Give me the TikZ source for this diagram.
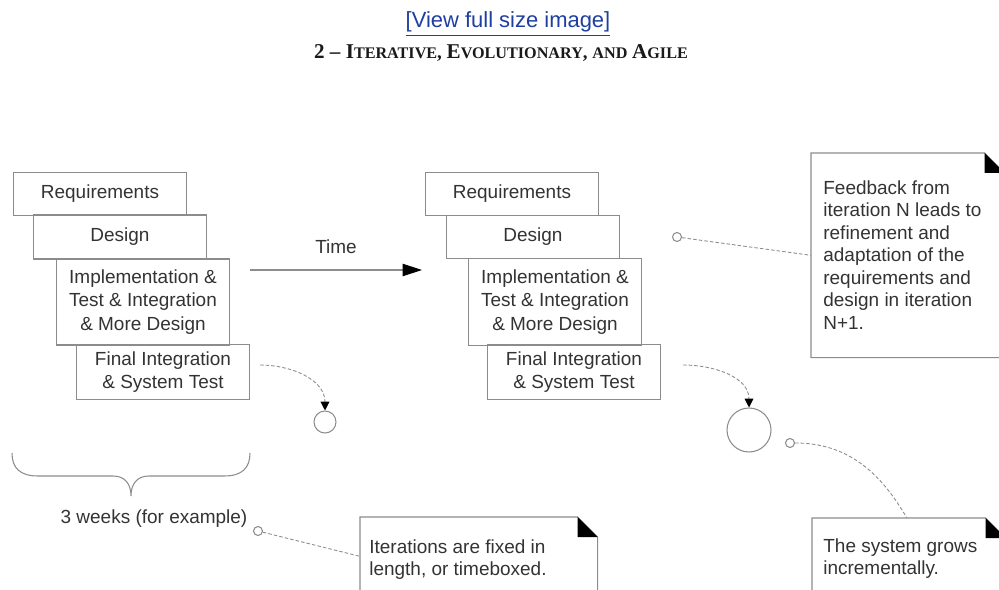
\documentclass[tikz,border=0pt]{standalone}
\usepackage{fontspec}
\setmainfont{Liberation Sans}
\newfontfamily\headfont{Liberation Serif}
\usetikzlibrary{arrows.meta, calc}
\definecolor{boxgray}{HTML}{8C8C8C}
\definecolor{inkgray}{HTML}{333333}
\definecolor{linkblue}{HTML}{1F3FA0}
\newcommand{\smallcap}[2]{{\fontsize{12}{12}\selectfont #1}{\fontsize{9.2}{10}\selectfont #2}}

\begin{document}
\begin{tikzpicture}[x=0.02cm, y=-0.02cm,
        stage/.style={rectangle, draw=boxgray, line width=0.6pt, align=center, inner sep=0pt, minimum width=3.46cm},
        leader/.style={draw=boxgray, line width=0.5pt, dash pattern=on 2pt off 1.2pt},
        dot/.style={circle, draw=boxgray, line width=0.6pt, inner sep=0pt, minimum size=0.18cm},
        frame/.style={draw=none, inner sep=0pt, anchor=north west},
        notetext/.style={inner sep=0pt, anchor=north west, align=left, font=\fontsize{10.8}{12.8}\selectfont}]
    \tikzstyle{every node}=[text=inkgray, font=\fontsize{10.8}{13.3}\selectfont]
    \clip (0,0) rectangle (999,590);

    % heading
    \node[text=linkblue, font=\fontsize{12.5}{14}\selectfont] (view) at (508,24) {\underline{[View full size image]}};
    \node[text=black!90] (chapter) at (501,53) {\headfont\bfseries{\fontsize{12}{12}\selectfont 2 – }\smallcap{I}{TERATIVE}, \smallcap{E}{VOLUTIONARY}, \smallcap{}{AND} \smallcap{A}{GILE}};

    % first iteration
    \node[stage, minimum height=0.86cm] (reqA) at (100,194) {Requirements};
    \node[stage, minimum height=0.88cm] (desA) at (120,237) {Design};
    \node[stage, minimum height=1.72cm] (impA) at (143,302) {Implementation \&\\Test \& Integration\\\& More Design};
    \node[stage, minimum height=1.10cm] (finA) at (163,372) {Final Integration\\\& System Test};

    % second iteration
    \node[stage, minimum height=0.86cm] (reqB) at (512,194) {Requirements};
    \node[stage, minimum height=0.86cm] (desB) at (533,237) {Design};
    \node[stage, minimum height=1.74cm] (impB) at (555,302) {Implementation \&\\Test \& Integration\\\& More Design};
    \node[stage, minimum height=1.10cm] (finB) at (574,372) {Final Integration\\\& System Test};

    % time axis
    \coordinate (t0) at (250,270);
    \coordinate (t1) at (422,270);
    \draw[boxgray, line width=0.6pt, -{Triangle[length=11pt, width=7pt, black]}] (t0) -- (t1)
        node[midway, above=5.5pt, text=inkgray] (time) {Time};

    % growing system
    \node[circle, draw=boxgray, line width=0.6pt, minimum size=0.44cm, inner sep=0pt] (sysA) at (325,422) {};
    \node[circle, draw=boxgray, line width=0.6pt, minimum size=0.88cm, inner sep=0pt] (sysB) at (749,430) {};
    \coordinate (outA) at (260,365);
    \coordinate (outB) at (683,365);
    \draw[leader, -{Triangle[length=5pt, width=5pt, black]}] (outA) to[out=0, in=90] (sysA.north);
    \draw[leader, -{Triangle[length=5pt, width=5pt, black]}] (outB) to[out=0, in=90] (sysB.north);

    % timebox brace
    \draw[boxgray, line width=0.6pt] (12,453) .. controls (12,468) and (20,476) .. (38,476) -- (113,476)
        .. controls (125,476) and (131,484) .. (131,496) .. controls (131,484) and (137,476) .. (149,476)
        -- (224,476) .. controls (242,476) and (250,468) .. (250,453);
    \node (weeks) at (154,519) {3 weeks (for example)};

    % feedback note
    \node[frame, minimum width=3.86cm, minimum height=4.08cm] (fb) at (811,153) {};
    \draw[boxgray, line width=0.6pt] (fb.north west) -- ($(fb.north east)+(-20,0)$) -- ($(fb.north east)+(0,20)$)
        -- (fb.south east) -- (fb.south west) -- cycle;
    \fill ($(fb.north east)+(-20,0)$) -- ++(0,20) -- ++(20,0) -- cycle;
    \node[notetext] (fbtext) at ([shift={(12,27)}]fb.north west) {Feedback from\\iteration N leads to\\refinement and\\adaptation of the\\requirements and\\design in iteration\\N+1.};
    \node[dot] (fbdot) at (677,237) {};
    \draw[leader] (fbdot) -- (fb.west);

    % timebox note
    \node[frame, minimum width=4.74cm, minimum height=1.56cm] (itn) at (360,517) {};
    \draw[boxgray, line width=0.6pt] (itn.north west) -- ($(itn.north east)+(-20,0)$) -- ($(itn.north east)+(0,20)$)
        -- (itn.south east) -- (itn.south west) -- cycle;
    \fill ($(itn.north east)+(-20,0)$) -- ++(0,20) -- ++(20,0) -- cycle;
    \node[notetext] (itntext) at ([shift={(9,22)}]itn.north west) {Iterations are fixed in\\length, or timeboxed.};
    \node[dot] (wdot) at (258,531) {};
    \draw[leader] (wdot) -- (itn.west);

    % growth note
    \node[frame, minimum width=3.86cm, minimum height=1.6cm] (gn) at (812,518) {};
    \draw[boxgray, line width=0.6pt] (gn.north west) -- ($(gn.north east)+(-20,0)$) -- ($(gn.north east)+(0,20)$)
        -- (gn.south east) -- (gn.south west) -- cycle;
    \fill ($(gn.north east)+(-20,0)$) -- ++(0,20) -- ++(20,0) -- cycle;
    \node[notetext] (gntext) at ([shift={(11,20)}]gn.north west) {The system grows\\incrementally.};
    \node[dot] (gdot) at (790,443) {};
    \draw[leader] (gdot) to[out=0, in=120] ([xshift=-0.04cm]gn.north);
\end{tikzpicture}
\end{document}
